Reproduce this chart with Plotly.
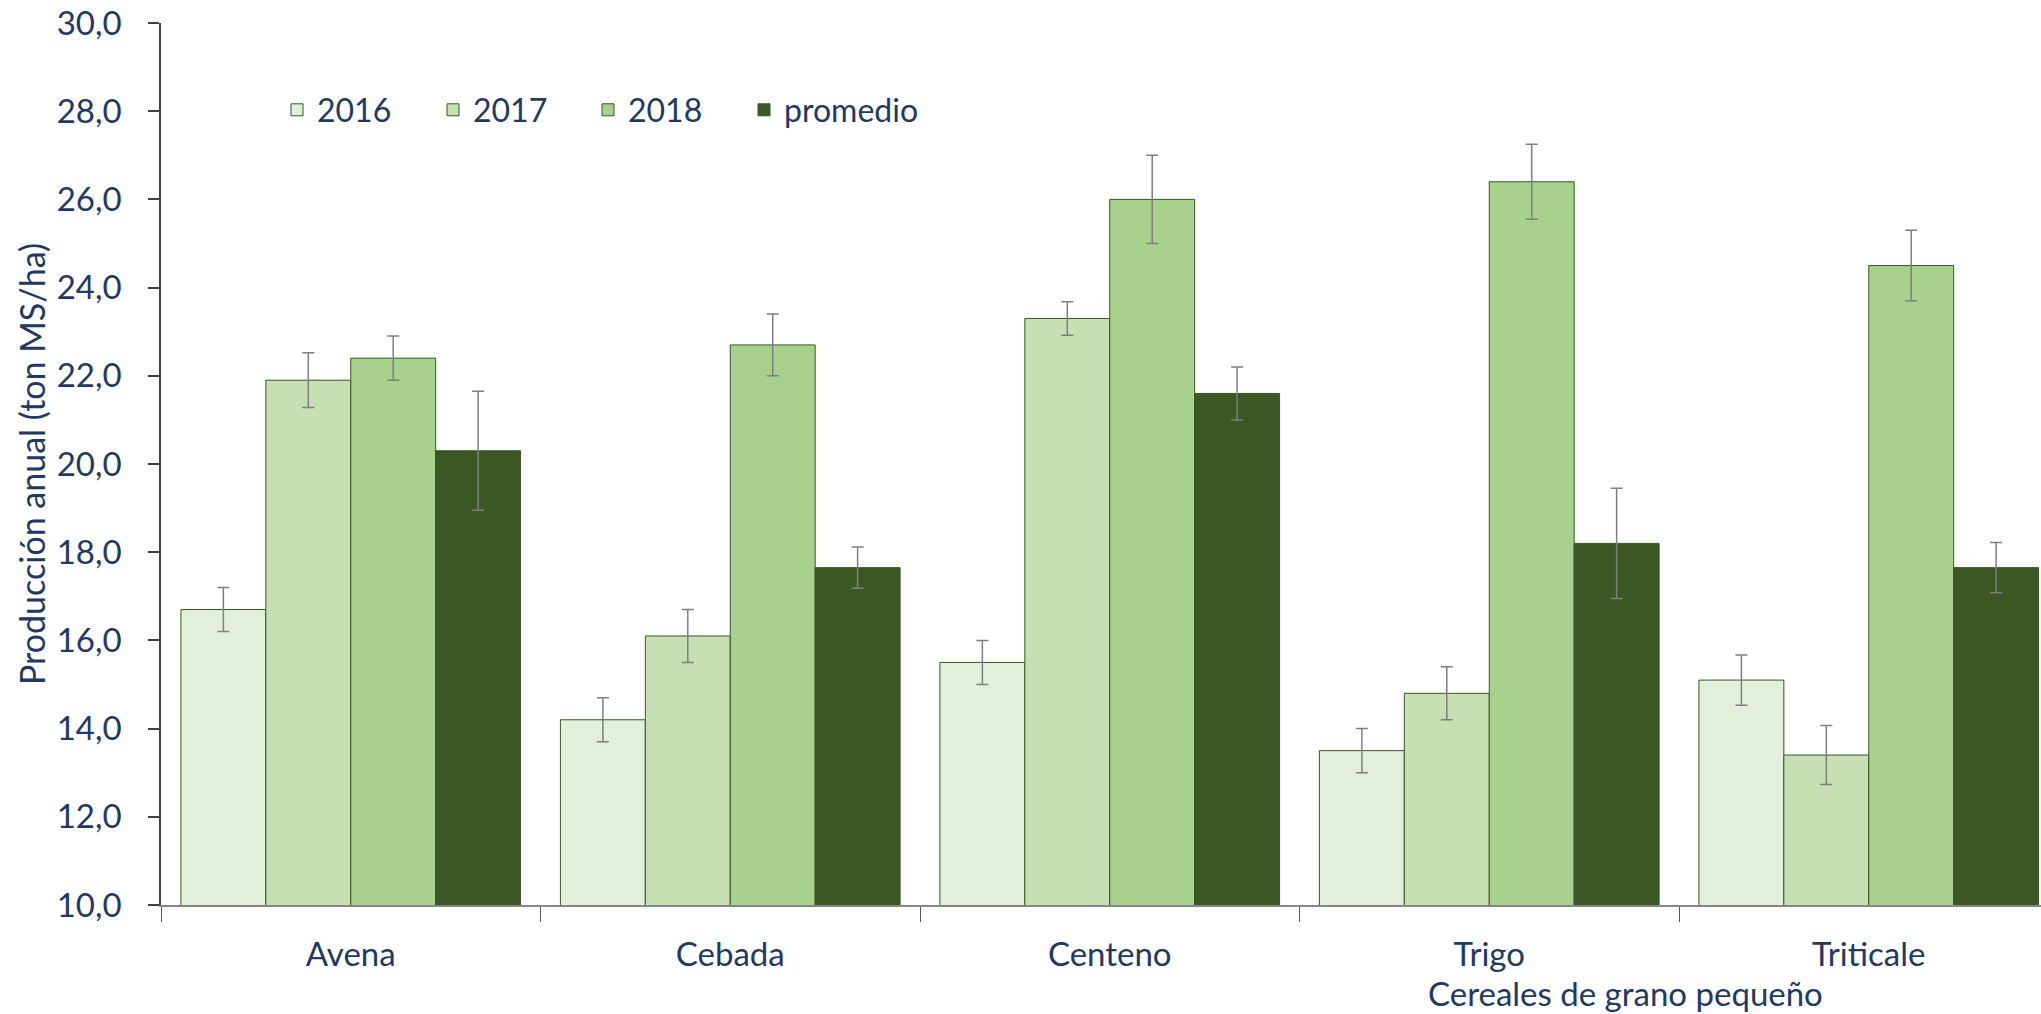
import plotly.graph_objects as go

categories = ["Avena", "Cebada", "Centeno", "Trigo", "Triticale"]
series_names = ["2016", "2017", "2018", "promedio"]
v2016 = [16.7, 14.2, 15.5, 13.5, 15.1]
v2017 = [21.9, 16.1, 23.3, 14.8, 13.4]
v2018 = [22.4, 22.7, 26.0, 26.4, 24.5]
vprom = [20.3, 17.65, 21.6, 18.2, 17.65]
e2016 = [0.5, 0.5, 0.5, 0.5, 0.57]
e2017 = [0.62, 0.6, 0.38, 0.6, 0.67]
e2018 = [0.5, 0.7, 1.0, 0.85, 0.8]
eprom = [1.35, 0.47, 0.6, 1.25, 0.57]
y_ticks = [10, 12, 14, 16, 18, 20, 22, 24, 26, 28, 30]

values = [v2016, v2017, v2018, vprom]
errors = [e2016, e2017, e2018, eprom]
colors = ["#E2EFDA", "#C6E0B4", "#A9D18E", "#3A5724"]

FONT = "Lato"
NAVY = "#1F3864"

W, H = 2041, 1014
L, R, T, B = 161, 0, 23, 109
pw = W - L - R
ph = H - T - B
cat_w = 379.5
legend_swatch_px = [297, 453, 608, 764]
legend_center_y = 110

legend_ids = ["legend", "legend2", "legend3", "legend4"]

fig = go.Figure()
for name, vals, errs, col, lid in zip(series_names, values, errors, colors, legend_ids):
    fig.add_trace(go.Bar(
        x=categories, y=vals, name=name, legend=lid, showlegend=True,
        marker=dict(color=col, line=dict(color="#385723", width=1)),
        error_y=dict(type="data", array=errs, visible=True,
                     color="#7F7F7F", thickness=1.5, width=6),
    ))

legend_layout = {}
for lid, sx in zip(legend_ids, legend_swatch_px):
    legend_layout[lid] = dict(
        orientation="h", x=(sx - 20 - L) / pw, xanchor="left",
        y=(H - B - legend_center_y) / ph, yanchor="middle",
        font=dict(family=FONT, size=32, color=NAVY),
        bgcolor="rgba(0,0,0,0)", visible=True,
    )

fig.update_layout(
    width=W, height=H,
    margin=dict(l=L, r=R, t=T, b=B),
    paper_bgcolor="white", plot_bgcolor="white",
    separators=",.",
    showlegend=True,
    barmode="group", bargap=0.105, bargroupgap=0,
    font=dict(family=FONT, color=NAVY, size=32),
    xaxis=dict(
        type="category",
        range=[-0.5, -0.5 + pw / cat_w],
        showline=True, linecolor="#868686", linewidth=1.5,
        ticks="outside", tickson="boundaries", ticklen=15,
        tickcolor="#595959", tickwidth=1,
        tickfont=dict(family=FONT, size=33, color=NAVY),
        ticklabelstandoff=20,
        showgrid=False, zeroline=False,
    ),
    yaxis=dict(
        range=[10, 30], tickvals=y_ticks, tickformat=".1f",
        showline=True, linecolor="#404040", linewidth=1.5,
        ticks="outside", ticklen=11, tickcolor="#404040", tickwidth=1.5,
        tickfont=dict(family=FONT, size=33, color=NAVY),
        ticklabelstandoff=20,
        showgrid=False, zeroline=False,
        title=dict(text="Producción anual (ton MS/ha)",
                   font=dict(family=FONT, size=34, color=NAVY), standoff=1),
    ),
    annotations=[dict(
        text="Cereales de grano pequeño", xref="paper", yref="paper",
        x=(1625 - L) / pw, y=(H - B - 993) / ph,
        xanchor="center", yanchor="middle", showarrow=False,
        font=dict(family=FONT, size=33, color=NAVY),
    )],
    **legend_layout,
)

fig.write_html("out.html")
